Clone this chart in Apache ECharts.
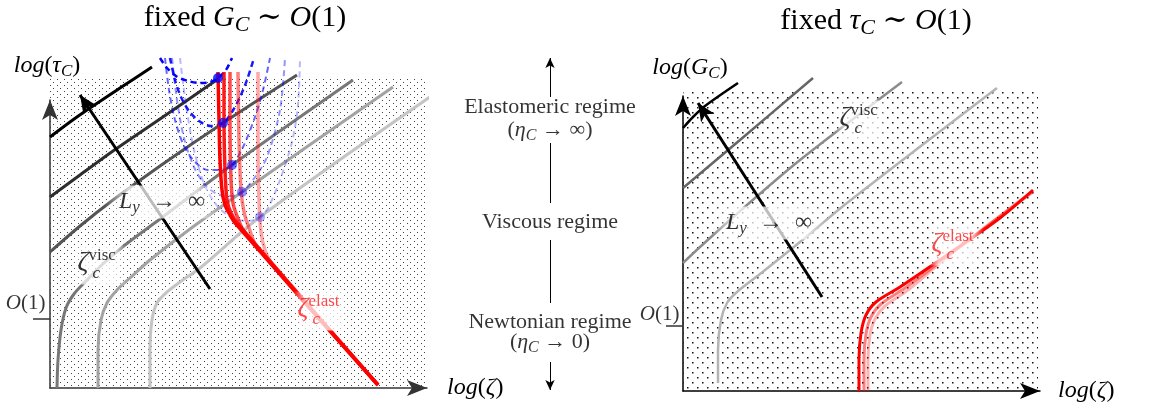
<!DOCTYPE html>
<html>
<head>
<meta charset="utf-8">
<title>regime diagram</title>
<script src="https://cdn.jsdelivr.net/npm/echarts@6/dist/echarts.min.js"></script>
<style>
html, body { margin: 0; padding: 0; background: #fff; }
#chart { width: 1170px; height: 410px; }
</style>
</head>
<body>
<div id="chart"></div>
<script>
// ---- left panel: fixed G_C (x = log zeta, y = log tau_C), schematic units ----
var leftStipple = [[0, 311], [390, 311]];
var leftBlack = [[0, 251], [20, 266], [37, 278], [70, 300], [102, 321]];
var leftVisc1 = [[0, 191], [30, 213], [63, 237], [110, 269], [168, 309]];
var leftVisc2 = [[0, 136], [30, 162], [63, 188], [110, 222], [173, 265], [247, 313]];
var leftVisc3 = [[7, 0], [8, 28], [11, 58], [16, 80], [24, 94], [36, 107], [55, 126], [75, 143], [110, 169], [182, 223], [303, 308]];
var leftVisc4 = [[48, 0], [48, 38], [51, 68], [57, 85], [67, 98], [80, 110], [100, 128], [140, 159], [192, 196], [343, 301]];
var leftVisc5 = [[100, 0], [100, 38], [102, 68], [107, 85], [117, 96], [130, 106], [150, 120], [210, 171], [393, 300]];
var leftViscColors = ['#000000', '#2e2e2e', '#555555', '#777777', '#a3a3a3', '#c4c4c4'];

var leftPara1 = [[110, 330], [117, 320], [126, 312], [138, 307], [150, 305], [160, 306], [168, 310], [176, 318], [182, 330]];
var leftPara2 = [[120, 330], [125, 308], [131, 291], [139, 277], [149, 267], [161, 262], [173, 265], [182, 276], [190, 291], [197, 308], [204, 330]];
var leftPara3 = [[115, 330], [119, 298], [125, 268], [134, 242], [145, 226], [158, 218], [170, 218], [182, 223], [193, 241], [205, 271], [213, 298], [220, 330]];
var leftPara4 = [[122, 330], [127, 288], [134, 250], [144, 221], [156, 202], [170, 193], [182, 192], [192, 196], [203, 208], [217, 231], [230, 278], [235, 330]];
var leftPara5 = [[130, 330], [136, 283], [144, 238], [155, 202], [169, 180], [185, 169], [199, 167], [210, 171], [218, 180], [230, 208], [242, 246], [248, 283], [250, 330]];
var paraColors = ['rgba(0,0,255,1)', 'rgba(0,0,255,0.9)', 'rgba(0,0,255,0.6)', 'rgba(0,0,255,0.42)', 'rgba(0,0,255,0.28)'];

var leftDots = [[168, 310], [173, 265], [182, 223], [192, 196], [210, 171]];
var dotColors = ['rgba(0,0,255,1)', 'rgba(0,0,255,0.85)', 'rgba(0,0,255,0.7)', 'rgba(0,0,255,0.55)', 'rgba(0,0,255,0.4)'];

var leftElast1 = [[168, 316], [169, 268], [170, 228], [172, 198], [175, 183], [180, 173], [186, 164], [328, 3]];
var leftElast2 = [[174, 316], [174, 268], [175, 218], [177, 188], [181, 175], [188, 164], [328, 3]];
var leftElast3 = [[180, 316], [180, 258], [181, 208], [183, 185], [187, 172], [195, 155], [328, 3]];
var leftElast4 = [[188, 316], [189, 248], [191, 198], [194, 176], [199, 160], [207, 141], [328, 3]];
var leftElast5 = [[208, 316], [208, 238], [209, 188], [211, 156], [215, 138], [223, 123], [328, 3]];
var elastColors = ['rgba(255,0,0,1)', 'rgba(255,0,0,0.9)', 'rgba(255,0,0,0.7)', 'rgba(255,0,0,0.5)', 'rgba(255,0,0,0.35)'];

// arrow "L_y -> inf": start, point under the arrow head, and head angle (deg)
var leftLyArrow = [[160, 99], [30, 293]];
var leftLyAngle = 34;
var leftTickValue = [69];

// ---- right panel: fixed tau_C (x = log zeta, y = log G_C) ----
var rightStipple = [[0, 301], [355, 301]];
var rightBlack = [[0, 263], [10, 274], [22, 285], [55, 308]];
var rightVisc1 = [[0, 203], [57, 251], [130, 313]];
var rightVisc2 = [[0, 128], [17, 144], [64, 186], [117, 231], [219, 309]];
var rightVisc3 = [[35, 8], [35, 41], [38, 71], [44, 88], [54, 99], [77, 117], [117, 149], [164, 188], [314, 303]];
var rightViscColors = ['#000000', '#656565', '#8c8c8c', '#b4b4b4'];

var rightElast1 = [[176, 0], [176, 31], [178, 58], [183, 76], [193, 89], [217, 104], [267, 138], [317, 173], [350, 201]];
var rightElast2 = [[181, 0], [181, 31], [183, 57], [188, 74], [198, 87], [222, 103], [267, 137], [350, 200]];
var rightElast3 = [[185, 0], [185, 31], [187, 56], [192, 72], [202, 85], [225, 101], [267, 136], [350, 199]];

var rightLyArrow = [[139, 94], [15, 288]];
var rightLyAngle = 33;
var rightTickValue = [65];

// ---- middle column (y = distance from bottom) ----
var midArrowUp = [[0.5, 303], [0.5, 342]];
var midBarTop = [[0.5, 257], [0.5, 197]];
var midBarBottom = [[0.5, 160], [0.5, 97]];
var midArrowDown = [[0.5, 38], [0.5, 10]];
var midText = [
    ['{r|Elastomeric regime}', 293],
    ['{r|(}{i|η}{s|C}{r| → ∞)}', 270],
    ['{r|Viscous regime}', 178],
    ['{r|Newtonian regime}', 78],
    ['{r|(}{i|η}{s|C}{r| → 0)}', 58]
];

var SERIF = "'Liberation Serif', 'DejaVu Serif', serif";

function tok(size, italic, color, padding) {
    var s = { fontFamily: SERIF, fontSize: size, fontStyle: italic ? 'italic' : 'normal', color: color || '#000', fill: color || '#000' };
    if (padding) s.padding = padding;
    return s;
}

function richSet(size, color) {
    var sub = Math.round(size * 0.72);
    return {
        r: tok(size, false, color),
        i: tok(size, true, color),
        s: tok(sub, true, color, [Math.round(size * 0.5), 0, 0, 0]),
        sp: tok(sub, false, color, [0, 0, Math.round(size * 0.6), 0]),
        sb: tok(sub, true, color),
        z: tok(size + 3, true, color)
    };
}

function dotPattern(w, h, dots, r, color) {
    var c = document.createElement('canvas');
    c.width = w;
    c.height = h;
    var ctx = c.getContext('2d');
    ctx.fillStyle = color;
    dots.forEach(function (d) {
        ctx.fillRect(d[0], d[1], r, r);
    });
    return c;
}

var fadeBg = new echarts.graphic.LinearGradient(0, 0, 1, 0, [
    { offset: 0, color: 'rgba(255,255,255,0)' },
    { offset: 0.2, color: 'rgba(255,255,255,0.92)' },
    { offset: 0.8, color: 'rgba(255,255,255,0.92)' },
    { offset: 1, color: 'rgba(255,255,255,0)' }
]);

function curve(gi, data, color, width, z, dash) {
    return {
        type: 'line', xAxisIndex: gi, yAxisIndex: gi, data: data,
        symbol: 'none', smooth: 0.3, clip: false, silent: true, z: z,
        lineStyle: { color: color, width: width, type: dash ? [6, 4] : 'solid' }
    };
}

function stipple(gi, data, pattern) {
    return {
        type: 'line', xAxisIndex: gi, yAxisIndex: gi, data: data,
        symbol: 'none', clip: false, silent: true, z: 1,
        lineStyle: { width: 0, opacity: 0 },
        areaStyle: { color: { image: pattern, repeat: 'repeat' }, opacity: 1, origin: 'start' }
    };
}

// straight line with an arrow head at its last point
function arrowLine(gi, data, angle, color, width, size) {
    return {
        type: 'line', xAxisIndex: gi, yAxisIndex: gi, clip: false, silent: true, z: 6,
        symbol: 'arrow', symbolSize: size, symbolRotate: angle, showSymbol: true,
        itemStyle: { color: color },
        lineStyle: { color: color, width: width },
        data: [{ value: data[0], symbol: 'none' }, { value: data[1] }]
    };
}

function segments(gi, list, color, width, arrow, arrowSize) {
    return {
        type: 'line', xAxisIndex: gi, yAxisIndex: gi, data: [], silent: true, z: 6,
        markLine: {
            silent: true, animation: false,
            symbol: arrow ? ['none', 'arrow'] : ['none', 'none'],
            symbolSize: arrowSize || [10, 16],
            label: { show: false },
            lineStyle: { type: 'solid', color: color, width: width },
            data: list.map(function (p) { return [{ coord: p[0] }, { coord: p[1] }]; })
        }
    };
}

function labelItem(pos, text, position, opts) {
    var lab = { show: true, formatter: text, position: position, distance: 0 };
    for (var k in opts) lab[k] = opts[k];
    return { value: pos, label: lab };
}

function labels(gi, items) {
    return {
        type: 'scatter', xAxisIndex: gi, yAxisIndex: gi, symbolSize: 1, silent: true, z: 20, clip: false,
        itemStyle: { color: 'rgba(0,0,0,0)' },
        data: items
    };
}

var blackRich = richSet(24, '#000');
var redRich = richSet(24, '#ff1a1a');
var midRich = richSet(22, '#000');
var oRich = richSet(21, '#000');

function zetaLabel(pos, sup, rich) {
    return [
        labelItem(pos, '{z|ζ}{sp|' + sup + '}', 'right', { rich: rich, backgroundColor: fadeBg, padding: [2, 10, 6, 4] }),
        labelItem(pos, '{sb|c}', 'right', { rich: rich, offset: [19, 9] })
    ];
}

var leftPattern = dotPattern(7, 6, [[1, 1], [4, 4]], 1, '#444');
var rightPattern = dotPattern(10, 10, [[2, 2], [7, 7]], 1.5, '#111');

var series = [];
// left
series.push(stipple(0, leftStipple, leftPattern));
[leftBlack, leftVisc1, leftVisc2, leftVisc3, leftVisc4, leftVisc5].forEach(function (d, i) {
    series.push(curve(0, d, leftViscColors[i], 3, 3));
});
[leftPara1, leftPara2, leftPara3, leftPara4, leftPara5].forEach(function (d, i) {
    series.push(curve(0, d, paraColors[i], i < 2 ? 2.5 : 2, 4, true));
});
[leftElast5, leftElast4, leftElast3, leftElast2, leftElast1].forEach(function (d, i) {
    series.push(curve(0, d, elastColors[4 - i], 3.5, 5));
});
series.push({
    type: 'scatter', xAxisIndex: 0, yAxisIndex: 0, symbolSize: 10, silent: true, z: 7, clip: false,
    data: leftDots.map(function (d, i) { return { value: d, itemStyle: { color: dotColors[i] } }; })
});
series.push(arrowLine(0, leftLyArrow, leftLyAngle, '#000', 3, [12, 18]));
series.push(labels(0, [
    labelItem([112, 186], '{i|L}{s|y}{r|  →  ∞}', 'inside', { rich: blackRich, backgroundColor: fadeBg, padding: [2, 14, 2, 14] }),
    labelItem([-4, 85], '{i|O}{r|(1)}', 'left', { rich: oRich })
].concat(zetaLabel([23, 123], 'visc', blackRich), zetaLabel([243, 77], 'elast', redRich))));

// right
series.push(stipple(1, rightStipple, rightPattern));
[rightBlack, rightVisc1, rightVisc2, rightVisc3].forEach(function (d, i) {
    series.push(curve(1, d, rightViscColors[i], 2.5, 3));
});
[rightElast3, rightElast2, rightElast1].forEach(function (d, i) {
    series.push(curve(1, d, ['rgba(255,0,0,0.3)', 'rgba(255,0,0,0.5)', 'rgba(255,0,0,1)'][i], 3, 5));
});
series.push(arrowLine(1, rightLyArrow, rightLyAngle, '#000', 3, [12, 18]));
series.push(labels(1, [
    labelItem([86, 168], '{i|L}{s|y}{r|  →  ∞}', 'inside', { rich: blackRich, backgroundColor: fadeBg, padding: [2, 14, 2, 14] }),
    labelItem([-3, 77], '{i|O}{r|(1)}', 'left', { rich: oRich })
].concat(zetaLabel([152, 271], 'visc', blackRich), zetaLabel([244, 145], 'elast', redRich))));

// middle
series.push(segments(2, [midArrowUp, midArrowDown], '#000', 1, true, [7, 10]));
series.push(segments(2, [midBarTop, midBarBottom], '#000', 1, false));
series.push(labels(2, midText.map(function (t) {
    return labelItem([0.5, t[1]], t[0], 'inside', { rich: midRich });
})));

function valueAxis(gi, max, name, gap, color, pad, ticks) {
    return {
        gridIndex: gi, type: 'value', min: 0, max: max,
        axisLine: { show: true, onZero: false, symbol: ['none', 'arrow'], symbolSize: [12, 20], lineStyle: { color: color, width: 1.5 } },
        axisTick: ticks ? { show: true, customValues: ticks, length: 17, inside: false, lineStyle: { color: '#333', width: 1.5 } } : { show: false },
        axisLabel: { show: false }, splitLine: { show: false },
        name: name, nameLocation: 'end', nameGap: gap,
        nameTextStyle: { rich: richSet(24, '#000'), padding: pad || 0 }
    };
}

var titleRich = richSet(30, '#000');

var option = {
    animation: false,
    backgroundColor: '#fff',
    grid: [
        { left: 50, top: 100, width: 377, height: 288 },
        { left: 683, top: 96, width: 357, height: 295 },
        { left: 540, top: 40, width: 20, height: 360 }
    ],
    xAxis: [
        valueAxis(0, 377, '{i|log}{r|(}{i|ζ}{r|)}', 20, '#333'),
        valueAxis(1, 357, '{i|log}{r|(}{i|ζ}{r|)}', 18, '#000'),
        { gridIndex: 2, type: 'value', min: 0, max: 1, show: false }
    ],
    yAxis: [
        valueAxis(0, 288, '{i|log}{r|(}{i|τ}{s|C}{r|)}', 20, '#333', [0, 6, 0, 0], leftTickValue),
        valueAxis(1, 295, '{i|log}{r|(}{i|G}{s|C}{r|)}', 14, '#000', [0, 0, 0, 14], rightTickValue),
        { gridIndex: 2, type: 'value', min: 0, max: 360, show: false }
    ],
    graphic: [
        { type: 'text', x: 245, y: 18, style: { text: '{r|fixed }{i|G}{s|C}{r| ∼ }{i|O}{r|(1)}', rich: titleRich, align: 'center', verticalAlign: 'middle' } },
        { type: 'text', x: 876, y: 21, style: { text: '{r|fixed }{i|τ}{s|C}{r| ∼ }{i|O}{r|(1)}', rich: titleRich, align: 'center', verticalAlign: 'middle' } }
    ],
    series: series
};

var chart = echarts.init(document.getElementById('chart'), null, { renderer: 'canvas' });
chart.setOption(option);
</script>
</body>
</html>
